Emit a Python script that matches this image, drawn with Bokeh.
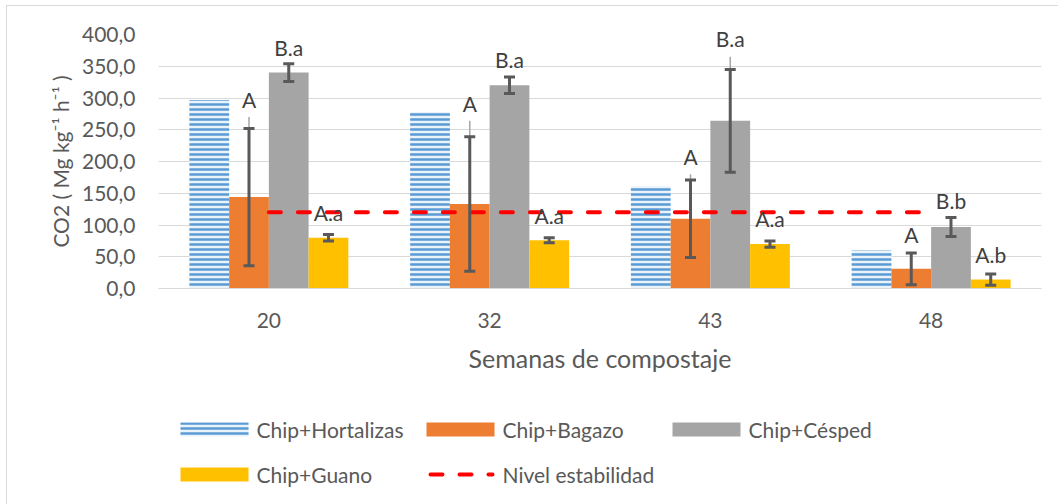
from bokeh.plotting import figure
from bokeh.layouts import column
from bokeh.models import (ColumnDataSource, FactorRange, Range1d, FixedTicker,
                          Whisker, TeeHead)
from bokeh.transform import dodge
from bokeh.core.properties import value
from bokeh.embed import file_html
from bokeh.resources import INLINE

# ---------------- data ----------------
weeks = ["20", "32", "43", "48"]
hortalizas = [297, 278, 161, 60]
bagazo = [144, 133, 110, 31]
cesped = [340, 320, 264, 97]
guano = [80, 76, 70, 14]
bagazo_err = [108, 106, 61, 25]
cesped_err = [14, 13, 81, 15]
guano_err = [5, 4, 5, 9]
nivel = [120, 120, 120, 120]
bagazo_lbl = ["A", "A", "A", "A"]
cesped_lbl = ["B.a", "B.a", "B.a", "B.b"]
guano_lbl = ["A.a", "A.a", "A.a", "A.b"]
bagazo_lbl_y = [298, 292, 208, 85]
cesped_lbl_y = [380, 361, 393, 139]
guano_lbl_y = [120, 115, 110, 54]
y_ticks = [0, 50, 100, 150, 200, 250, 300, 350, 400]
y_tick_labels = ["0,0", "50,0", "100,0", "150,0", "200,0", "250,0", "300,0", "350,0", "400,0"]
series_names = ["Chip+Hortalizas", "Chip+Bagazo", "Chip+Césped", "Chip+Guano", "Nivel estabilidad"]

FONT = "Lato"
TXT = "#595959"
LEAD_GAP = 28
FIG_W, BORDER_L, BORDER_R = 1051, 151, 17

src = ColumnDataSource(dict(
    week=weeks, hort=hortalizas, bag=bagazo, ces=cesped, gua=guano, nivel=nivel,
    bag_up=[v + e for v, e in zip(bagazo, bagazo_err)],
    bag_lo=[v - e for v, e in zip(bagazo, bagazo_err)],
    ces_up=[v + e for v, e in zip(cesped, cesped_err)],
    ces_lo=[v - e for v, e in zip(cesped, cesped_err)],
    gua_up=[v + e for v, e in zip(guano, guano_err)],
    gua_lo=[v - e for v, e in zip(guano, guano_err)],
    bag_lbl=bagazo_lbl, ces_lbl=cesped_lbl, gua_lbl=guano_lbl,
    bag_lbl_y=bagazo_lbl_y, ces_lbl_y=cesped_lbl_y, gua_lbl_y=guano_lbl_y,
    bag_lead=[y - LEAD_GAP for y in bagazo_lbl_y],
    ces_lead=[y - LEAD_GAP for y in cesped_lbl_y],
))

p = figure(x_range=FactorRange(*weeks), y_range=Range1d(0, 400),
           width=FIG_W, height=384, output_backend="svg", toolbar_location=None,
           min_border_left=BORDER_L, min_border_right=BORDER_R, min_border_top=28, min_border_bottom=102)
p.outline_line_color = None
p.background_fill_color = "white"
p.border_fill_color = "white"

W = 0.18
offs = [-0.27, -0.09, 0.09, 0.27]
xr = p.x_range

HORT = dict(fill_color="#EAF2FA", line_color=None, hatch_pattern="horizontal_line",
            hatch_color="#5B9BD5", hatch_scale=5, hatch_weight=2.5)
BAG = dict(fill_color="#ED7D31", line_color=None)
CES = dict(fill_color="#A5A5A5", line_color=None)
GUA = dict(fill_color="#FFC000", line_color=None)
NIV = dict(line_color="#FF0000", line_width=4, line_dash="12 17", line_cap="round")

p.vbar(x=dodge("week", offs[0], range=xr), top="hort", width=W, source=src, **HORT)
p.vbar(x=dodge("week", offs[1], range=xr), top="bag", width=W, source=src, **BAG)
p.vbar(x=dodge("week", offs[2], range=xr), top="ces", width=W, source=src, **CES)
p.vbar(x=dodge("week", offs[3], range=xr), top="gua", width=W, source=src, **GUA)

# leader lines of moved labels
for off, v, lead in [(offs[1], "bag", "bag_lead"), (offs[2], "ces", "ces_lead")]:
    p.segment(x0=dodge("week", off, range=xr), y0=v, x1=dodge("week", off, range=xr), y1=lead,
              source=src, line_color="#A6A6A6", line_width=1.5)

# error bars
for off, up, lo in [(offs[1], "bag_up", "bag_lo"), (offs[2], "ces_up", "ces_lo"), (offs[3], "gua_up", "gua_lo")]:
    w = Whisker(base=dodge("week", off, range=xr), upper=up, lower=lo, source=src,
                line_color="#595959", line_width=3, level="annotation",
                upper_head=TeeHead(size=11, line_color="#595959", line_width=3),
                lower_head=TeeHead(size=11, line_color="#595959", line_width=3))
    p.add_layout(w)

p.line(x="week", y="nivel", source=src, level="annotation", **NIV)

for off, yf, tf in [(offs[1], "bag_lbl_y", "bag_lbl"), (offs[2], "ces_lbl_y", "ces_lbl"), (offs[3], "gua_lbl_y", "gua_lbl")]:
    p.text(x=dodge("week", off, range=xr), y=yf, text=tf, source=src,
           text_font=value(FONT), text_font_size="21px", text_color="#404040",
           text_align="center", text_baseline="middle", level="overlay")

# axes
p.xgrid.grid_line_color = None
p.ygrid.ticker = FixedTicker(ticks=y_ticks)
p.ygrid.grid_line_color = "#D9D9D9"
p.ygrid.grid_line_width = 1

p.yaxis.ticker = FixedTicker(ticks=y_ticks)
p.yaxis.major_label_overrides = dict(zip(y_ticks, y_tick_labels))
p.yaxis.axis_line_color = None
p.yaxis.major_tick_line_color = None
p.yaxis.minor_tick_line_color = None
p.yaxis.major_label_standoff = 17
p.yaxis.major_label_text_font = FONT
p.yaxis.major_label_text_font_size = "21px"
p.yaxis.major_label_text_color = TXT
p.yaxis.axis_label = "CO2 ( Mg kg\u207b\u00b9 h\u207b\u00b9 )"
p.yaxis.axis_label_text_font = FONT
p.yaxis.axis_label_text_font_style = "normal"
p.yaxis.axis_label_text_font_size = "21px"
p.yaxis.axis_label_text_color = TXT
p.yaxis.axis_label_standoff = 6

p.xaxis.axis_line_color = "#D9D9D9"
p.xaxis.axis_line_width = 1
p.xaxis.major_tick_line_color = None
p.xaxis.minor_tick_line_color = None
p.xaxis.major_label_standoff = 18
p.xaxis.major_label_text_font = FONT
p.xaxis.major_label_text_font_size = "21px"
p.xaxis.major_label_text_color = TXT
p.xaxis.axis_label = "Semanas de compostaje"
p.xaxis.axis_label_text_font = FONT
p.xaxis.axis_label_text_font_style = "normal"
p.xaxis.axis_label_text_font_size = "25px"
p.xaxis.axis_label_text_color = TXT
p.xaxis.axis_label_standoff = 12

# ---------------- legend strip (pixel-scaled panel under the chart) ----------------
# the column aligns this panel's frame with the chart's frame, so its x range is
# expressed in the same canvas pixels as the chart (frame = BORDER_L .. FIG_W - BORDER_R)
LEG_H = 114
p2 = figure(width=FIG_W, height=LEG_H,
            x_range=Range1d(BORDER_L, FIG_W - BORDER_R), y_range=Range1d(LEG_H, 0),
            x_axis_type=None, y_axis_type=None, output_backend="svg", toolbar_location=None,
            min_border_left=BORDER_L, min_border_right=BORDER_R, min_border_top=0, min_border_bottom=0)
p2.outline_line_color = None
p2.grid.visible = False
p2.background_fill_color = "white"
p2.border_fill_color = "white"

LEG_X0, LEG_COL = 173, 246        # first swatch left, column pitch
LEG_ROWS = [39, 84]               # row centres
SW_W, SW_H, LBL_GAP = 68, 14, 8
styles = [HORT, BAG, CES, GUA, NIV]
for i, (name, st) in enumerate(zip(series_names, styles)):
    x0 = LEG_X0 + (i % 3) * LEG_COL
    yc = LEG_ROWS[i // 3]
    if "line_dash" in st:
        p2.line(x=[x0 + 4, x0 + SW_W - 2], y=[yc, yc], **st)
    else:
        p2.quad(left=[x0], right=[x0 + SW_W], top=[yc - SW_H / 2], bottom=[yc + SW_H / 2], **st)
    p2.text(x=[x0 + SW_W + LBL_GAP], y=[yc], text=[name], text_font=value(FONT),
            text_font_size="21px", text_color=TXT, text_align="left", text_baseline="middle")

layout = column(p, p2, spacing=0,
                styles={"margin-left": "6px", "margin-top": "5px",
                        "border-left": "1px solid #D9D9D9", "border-top": "1px solid #D9D9D9"})

open("out.html", "w", encoding="utf-8").write(file_html(layout, INLINE))
